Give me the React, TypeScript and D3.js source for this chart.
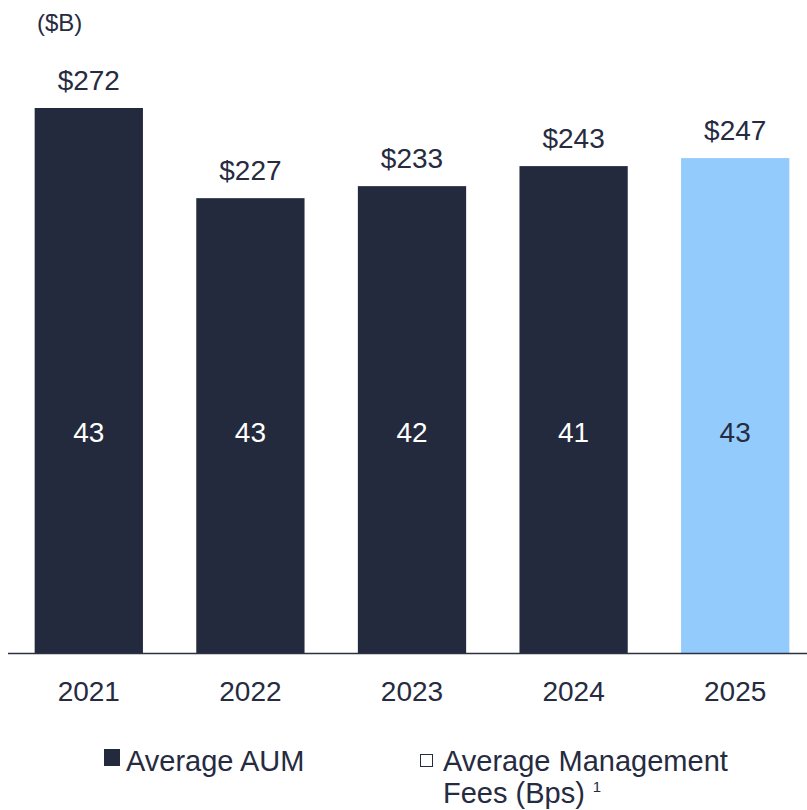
import React from "react";
import * as d3 from "d3";

const years = ["2021", "2022", "2023", "2024", "2025"];
const aum = [272, 227, 233, 243, 247];
const fees = [43, 43, 42, 41, 43];
const barColors = ["#232a3e", "#232a3e", "#232a3e", "#232a3e", "#94cbfd"];
const feeColors = ["#ffffff", "#ffffff", "#ffffff", "#ffffff", "#262b3f"];

const W = 807;
const H = 810;
const FONT = "'Liberation Sans', Arial, sans-serif";
const TEXT = "#262b3f";

export default function App() {
  const baseline = 653;
  const x = d3.scaleBand<string>().domain(years).range([8, 816]).paddingInner(0.33).paddingOuter(0.165);
  const y = d3.scaleLinear().domain([0, 272]).range([baseline, 108]);

  return (
    <svg width={W} height={H} style={{ position: "absolute", left: 0, top: 0, background: "white" }} fontFamily={FONT}>
      <text x={37} y={31} fontSize={24} fill={TEXT}>($B)</text>

      {years.map((yr, i) => {
        const bx = x(yr)!;
        const cx = bx + x.bandwidth() / 2;
        return (
          <g key={yr}>
            <rect x={bx} y={y(aum[i])} width={x.bandwidth()} height={baseline - y(aum[i])} fill={barColors[i]} />
            <text x={cx} y={y(aum[i]) - 18} textAnchor="middle" fontSize={28} fill={TEXT}>${aum[i]}</text>
            <text x={cx} y={442} textAnchor="middle" fontSize={28} fill={feeColors[i]}>{fees[i]}</text>
            <text x={cx} y={701} textAnchor="middle" fontSize={28} fill={TEXT}>{yr}</text>
          </g>
        );
      })}

      <line x1={8} x2={807} y1={baseline + 0.5} y2={baseline + 0.5} stroke="#2b3042" strokeWidth={1.5} />

      <rect x={104} y={749} width={16} height={17} fill="#232a3e" />
      <text x={126} y={771} fontSize={29} fill={TEXT}>Average AUM</text>

      <rect x={420.5} y={754.5} width={12} height={12} fill="none" stroke={TEXT} strokeWidth={1} />
      <text x={443} y={771} fontSize={29} fill={TEXT}>Average Management</text>
      <text x={443} y={803} fontSize={29} fill={TEXT}>
        Fees (Bps)
        <tspan dx={8} dy={-11} fontSize={15}>1</tspan>
      </text>
    </svg>
  );
}
